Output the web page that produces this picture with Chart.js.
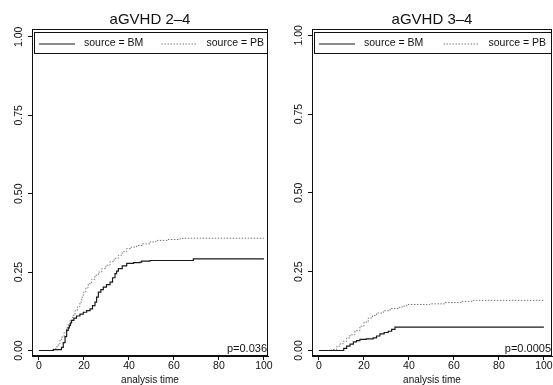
<!DOCTYPE html>
<html>
<head>
<meta charset="utf-8">
<script src="https://cdn.jsdelivr.net/npm/chart.js@4"></script>
<style>
  html, body { margin: 0; padding: 0; background: #fff; }
  #wrap { position: relative; width: 553px; height: 385px; overflow: hidden; }
  .panel { position: absolute; top: 0; height: 385px; }
  #left { left: 0; width: 276px; }
  #right { left: 276px; width: 277px; }
</style>
</head>
<body>
<div id="wrap">
  <div class="panel" id="left"><canvas id="c1" width="276" height="385"></canvas></div>
  <div class="panel" id="right"><canvas id="c2" width="277" height="385"></canvas></div>
</div>
<script>
const titles = ['aGVHD 2\u20134', 'aGVHD 3\u20134'];
const seriesLabels = ['source = BM', 'source = PB'];
const pValues = ['p=0.036', 'p=0.0005'];
const xTicks = [0, 20, 40, 60, 80, 100];
const yTicks = [0, 0.25, 0.5, 0.75, 1];
const xTitle = 'analysis time';

// aGVHD 2-4
const bm24Time = [0, 6.4, 10, 10.8, 11.6, 12.3, 13, 13.5, 14, 14.5, 15.5, 16.7, 18.2, 19.7, 21.2, 22.7, 23.8, 24.9, 25.6, 26.4, 27.5, 28.6, 30, 31.6, 32.7, 33.8, 34.5, 35.3, 37, 39, 42, 44.9, 45.6, 49.3, 68.6, 100];
const bm24Value = [0, 0.003, 0.01, 0.025, 0.044, 0.064, 0.072, 0.08, 0.088, 0.096, 0.103, 0.11, 0.116, 0.122, 0.127, 0.133, 0.143, 0.154, 0.17, 0.186, 0.194, 0.202, 0.21, 0.218, 0.232, 0.245, 0.253, 0.261, 0.27, 0.278, 0.28, 0.282, 0.285, 0.287, 0.292, 0.292];
const pb24Time = [0, 6.4, 7.5, 8.6, 9.3, 10, 11.2, 12.3, 13, 13.8, 15, 16, 17, 18.2, 19, 19.7, 20.8, 21.9, 23.4, 24.9, 26.4, 27.9, 29.7, 31.6, 33.4, 35.3, 37, 39, 41, 43.4, 46, 49.3, 52, 57, 62.7, 64.1, 100];
const pb24Value = [0, 0.005, 0.012, 0.021, 0.032, 0.043, 0.058, 0.074, 0.085, 0.096, 0.112, 0.127, 0.14, 0.154, 0.17, 0.186, 0.2, 0.213, 0.227, 0.24, 0.25, 0.261, 0.272, 0.283, 0.294, 0.304, 0.315, 0.325, 0.33, 0.335, 0.34, 0.346, 0.351, 0.354, 0.357, 0.358, 0.358];

// aGVHD 3-4
const bm34Time = [0, 9.3, 11, 12.3, 13.8, 15.3, 16.7, 18.2, 21, 24.1, 25.6, 27.1, 29, 30.8, 32.3, 33.8, 100];
const bm34Value = [0, 0, 0.007, 0.0136, 0.02, 0.027, 0.031, 0.035, 0.037, 0.04, 0.046, 0.053, 0.057, 0.061, 0.067, 0.074, 0.074];
const pb34Time = [0, 5.6, 7.9, 9.3, 10.8, 12.3, 13.8, 16, 18.2, 20, 21.9, 23.8, 25.6, 28.6, 31.6, 35.3, 37, 39, 49.3, 56, 63.4, 68.6, 100];
const pb34Value = [0, 0.003, 0.0136, 0.021, 0.029, 0.04, 0.05, 0.063, 0.077, 0.09, 0.103, 0.111, 0.119, 0.126, 0.133, 0.137, 0.141, 0.146, 0.148, 0.152, 0.156, 0.159, 0.159];

const toPoints = (t, v) => t.map((x, i) => ({x: x, y: v[i]}));

const bmStyle = {borderColor: '#1a1a1a', borderWidth: 1.2, borderDash: []};
const pbStyle = {borderColor: '#7a7a7a', borderWidth: 1, borderDash: [1.5, 1.5]};

// frame, legend box inside the plot, p-value
const panelExtras = {
  id: 'panelExtras',
  afterDraw(chart, args, opts) {
    const ctx = chart.ctx;
    const a = chart.chartArea;
    ctx.save();
    ctx.strokeStyle = '#111';
    ctx.lineWidth = 1;
    ctx.setLineDash([]);
    ctx.strokeRect(a.left + 0.5, a.top + 0.5, a.right - a.left - 1, a.bottom - a.top - 1);

    // legend
    const bx = a.left + 2, by = a.top + 3;
    const bw = a.right - 1 - bx, bh = 21;
    ctx.strokeRect(bx + 0.5, by + 0.5, bw, bh);
    const colW = bw / 2 + 6;
    const cy = by + bh / 2 + 1;
    ctx.font = '10.5px "Liberation Sans", Arial, sans-serif';
    ctx.fillStyle = '#111';
    ctx.textBaseline = 'middle';
    ctx.textAlign = 'left';
    chart.data.datasets.forEach((ds, i) => {
      const x0 = bx + i * colW;
      ctx.strokeStyle = ds.borderColor;
      ctx.lineWidth = ds.borderWidth;
      ctx.setLineDash(ds.borderDash || []);
      ctx.beginPath();
      ctx.moveTo(x0 + 5, cy + 0.5);
      ctx.lineTo(x0 + 41, cy + 0.5);
      ctx.stroke();
      ctx.setLineDash([]);
      ctx.fillText(ds.label, x0 + 50, cy);
    });

    // p-value
    ctx.font = '11px "Liberation Sans", Arial, sans-serif';
    ctx.textAlign = 'right';
    ctx.fillText(opts.text, a.right - 1, a.bottom - 7);
    ctx.restore();
  }
};

function makePanel(canvasId, title, bmT, bmV, pbT, pbV, pText, yAxisWidth, padRight, xMax, yMax) {
  const tickFont = {family: '"Liberation Sans", Arial, sans-serif', size: 10.5};
  return new Chart(document.getElementById(canvasId), {
    type: 'line',
    data: {
      datasets: [
        Object.assign({label: seriesLabels[0], data: toPoints(bmT, bmV)}, bmStyle),
        Object.assign({label: seriesLabels[1], data: toPoints(pbT, pbV)}, pbStyle)
      ]
    },
    options: {
      responsive: false,
      animation: false,
      events: [],
      layout: {padding: {left: 0, right: padRight, top: 0, bottom: 0}},
      elements: {
        point: {radius: 0},
        line: {stepped: true, tension: 0, fill: false}
      },
      scales: {
        x: {
          type: 'linear',
          min: -3.1,
          max: xMax,
          afterBuildTicks: scale => { scale.ticks = xTicks.map(v => ({value: v})); },
          afterFit: scale => {
            scale.height = 29;
            scale.paddingLeft = 0; scale.paddingRight = 0;
          },
          grid: {display: true, drawOnChartArea: false, drawTicks: true, tickLength: 4, color: '#111'},
          border: {display: true, color: '#111'},
          ticks: {
            padding: 0, color: '#111', font: tickFont, maxRotation: 0, autoSkip: false,
            callback: v => String(v)
          },
          title: {
            display: true, text: xTitle, color: '#111',
            font: {family: '"Liberation Sans", Arial, sans-serif', size: 10, lineHeight: 1},
            padding: {top: 0, bottom: 0}
          }
        },
        y: {
          type: 'linear',
          min: -0.0175,
          max: yMax,
          afterBuildTicks: scale => { scale.ticks = yTicks.map(v => ({value: v})); },
          afterFit: scale => {
            scale.width = yAxisWidth;
            scale.paddingTop = 0; scale.paddingBottom = 0;
          },
          grid: {display: true, drawOnChartArea: false, drawTicks: true, tickLength: 4, color: '#111'},
          border: {display: true, color: '#111'},
          ticks: {
            padding: -1, color: '#111', font: tickFont, minRotation: 90, maxRotation: 90,
            crossAlign: 'center', autoSkip: false,
            callback: v => Number(v).toFixed(2)
          }
        }
      },
      plugins: {
        legend: {display: false},
        tooltip: {enabled: false},
        title: {
          display: true,
          text: title,
          fullSize: false,
          color: '#111',
          font: {family: '"Liberation Sans", Arial, sans-serif', size: 15, weight: 'normal', lineHeight: 1.2},
          padding: {top: 11, bottom: 0}
        },
        panelExtras: {text: pText}
      }
    },
    plugins: [panelExtras]
  });
}

makePanel('c1', titles[0], bm24Time, bm24Value, pb24Time, pb24Value, pValues[0], 32, 8, 101.8, 1.025);
makePanel('c2', titles[1], bm34Time, bm34Value, pb34Time, pb34Value, pValues[1], 36, 1, 103.6, 1.02);
</script>
</body>
</html>
